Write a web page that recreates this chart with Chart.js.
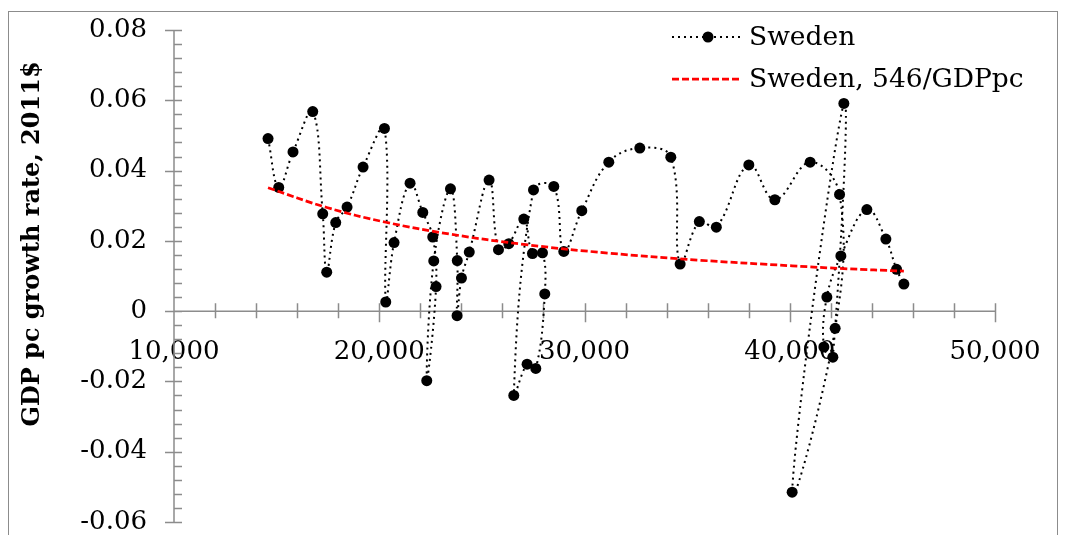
<!DOCTYPE html>
<html><head><meta charset="utf-8">
<script src="https://cdn.jsdelivr.net/npm/chart.js@4.4.0/dist/chart.umd.min.js"></script>
<style>
html,body{margin:0;padding:0;background:#fff;}
#wrap{position:relative;width:1065px;height:535px;overflow:hidden;background:#fff;}
#frame{position:absolute;left:8px;top:11px;width:1050px;height:600px;border:1px solid #8c8c8c;box-sizing:border-box;pointer-events:none;}
canvas{position:absolute;left:0;top:0;}
</style></head><body>
<div id="wrap"><canvas id="c" width="1065" height="535"></canvas><div id="frame"></div></div>
<script>
// ---- data ----
const swedenGDPpc = [14581,15102,15799,16759,17246,17441,17880,18431,19211,20253,
  20317,20721,21501,22120,22607,22768,22315,22656,23470,23801,
  23791,24006,24386,25351,25809,26311,27042,27466,27953,28065,
  27627,27203,26555,27515,28504,28991,29868,31184,32695,34205,
  34659,35595,36423,38007,39274,40994,42427,42212,40117,42636,
  42100,41662,41808,42490,43757,44683,45205,45560];
const swedenGrowth = [0.0491,0.0352,0.0453,0.0568,0.0277,0.0111,0.0252,0.0296,0.0410,0.0520,
  0.0026,0.0195,0.0364,0.0281,0.0211,0.0070,-0.0198,0.0143,0.0348,0.0144,
  -0.0013,0.0094,0.0168,0.0373,0.0175,0.0192,0.0262,0.0164,0.0166,0.0049,
  -0.0163,-0.0151,-0.0240,0.0345,0.0355,0.0170,0.0286,0.0424,0.0464,0.0438,
  0.0134,0.0255,0.0239,0.0416,0.0317,0.0424,0.0332,-0.0049,-0.0515,0.0591,
  -0.0131,-0.0102,0.0040,0.0157,0.0289,0.0205,0.0119,0.0077];
const fitGDPpc  = [14581,17441,20317,23470,27042,31184,35595,40117,42636,45560];
const fitGrowth = [0.0351,0.0295,0.0253,0.0219,0.0190,0.0165,0.0145,0.0129,0.0121,0.0114];
const xTickValues = [10000,20000,30000,40000,50000];
const yTickValues = [-0.06,-0.04,-0.02,0,0.02,0.04,0.06,0.08];
const seriesLabels = ['Sweden','Sweden, 546/GDPpc'];
const yAxisTitle = 'GDP pc growth rate, 2011$';

const SERIF = '"DejaVu Serif", "Liberation Serif", serif';
const AXIS_COLOR = '#8c8c8c';

const toPts = (xs, ys) => xs.map((x, i) => ({x: x, y: ys[i]}));

const axesPlugin = {
  id: 'excelAxes',
  beforeDatasetsDraw(chart) {
    const {ctx} = chart;
    const xs = chart.scales.x, ys = chart.scales.y;
    const x0 = xs.getPixelForValue(xs.min), x1 = xs.getPixelForValue(xs.max);
    const yTop = ys.getPixelForValue(ys.max), yBot = ys.getPixelForValue(ys.min);
    const yZero = ys.getPixelForValue(0);
    ctx.save();
    ctx.strokeStyle = AXIS_COLOR;
    ctx.lineWidth = 1.5;
    ctx.beginPath();
    ctx.moveTo(x0, yTop); ctx.lineTo(x0, yBot);
    ctx.moveTo(x0, yZero); ctx.lineTo(x1, yZero);
    const yStep = 0.004;
    const nY = Math.round((ys.max - ys.min) / yStep);
    for (let i = 0; i <= nY; i++) {
      const v = ys.min + i * yStep;
      const p = Math.round(ys.getPixelForValue(v)) + 0.5;
      const major = (i % 5) === 0;
      ctx.moveTo(major ? x0 - 9 : x0, p); ctx.lineTo(x0 + 8, p);
    }
    const xStep = 2000;
    const nX = Math.round((xs.max - xs.min) / xStep);
    for (let i = 1; i <= nX; i++) {
      const v = xs.min + i * xStep;
      const p = Math.round(xs.getPixelForValue(v)) + 0.5;
      const major = (i % 5) === 0;
      ctx.moveTo(p, yZero - 8); ctx.lineTo(p, yZero + (major ? 11 : 7));
    }
    ctx.stroke();
    ctx.restore();
  },
  afterDraw(chart) {
    const {ctx} = chart;
    ctx.save();
    ctx.translate(33, 244);
    ctx.rotate(-Math.PI / 2);
    ctx.fillStyle = '#000';
    ctx.font = 'bold 24px ' + SERIF;
    ctx.textAlign = 'center';
    ctx.textBaseline = 'middle';
    ctx.fillText(yAxisTitle, 0, 0);
    ctx.restore();

    const ds = chart.data.datasets;
    const rows = [37, 79];
    const lx0 = 672, lx1 = 742, tx = 749;
    ds.forEach((d, i) => {
      const y = rows[i];
      ctx.save();
      ctx.strokeStyle = d.borderColor;
      ctx.lineWidth = d.borderWidth;
      ctx.setLineDash(d.borderDash || []);
      ctx.beginPath();
      ctx.moveTo(lx0, y); ctx.lineTo(lx1, y);
      ctx.stroke();
      ctx.setLineDash([]);
      if (d.pointRadius > 0) {
        ctx.fillStyle = d.pointBackgroundColor;
        ctx.beginPath();
        ctx.arc((lx0 + lx1) / 2 + 1, y, d.pointRadius, 0, Math.PI * 2);
        ctx.fill();
      }
      ctx.fillStyle = '#000';
      ctx.font = '26.5px ' + SERIF;
      ctx.textAlign = 'left';
      ctx.textBaseline = 'middle';
      ctx.fillText(d.label, tx, y + 1);
      ctx.restore();
    });
  }
};

const fmtX = v => v.toLocaleString('en-US');
const fmtY = v => (Math.abs(v) < 1e-9 ? '0' : v.toFixed(2));

new Chart(document.getElementById('c'), {
  type: 'line',
  data: {
    datasets: [
      {
        label: seriesLabels[0],
        data: toPts(swedenGDPpc, swedenGrowth),
        borderColor: '#000',
        borderWidth: 2,
        borderDash: [2, 4],
        pointRadius: 5.5,
        pointBorderWidth: 0,
        pointBackgroundColor: '#000',
        pointBorderColor: '#000',
        tension: 0.4,
        fill: false,
        order: 1
      },
      {
        label: seriesLabels[1],
        data: toPts(fitGDPpc, fitGrowth),
        borderColor: '#ff0000',
        borderWidth: 2.75,
        borderDash: [7, 3],
        pointRadius: 0,
        pointBackgroundColor: '#ff0000',
        tension: 0.4,
        fill: false,
        order: 0
      }
    ]
  },
  options: {
    responsive: false,
    devicePixelRatio: 1,
    animation: false,
    layout: {padding: {left: 0, top: 30, right: 70, bottom: 13}},
    plugins: {legend: {display: false}, tooltip: {enabled: false}},
    scales: {
      x: {
        type: 'linear',
        position: {y: 0},
        min: 10000, max: 50000,
        afterBuildTicks: s => { s.ticks = xTickValues.map(v => ({value: v})); },
        ticks: {
          callback: fmtX, color: '#000', padding: 0, maxRotation: 0, autoSkip: false,
          font: {family: SERIF, size: 26, lineHeight: 1}
        },
        grid: {display: false, drawTicks: true, tickLength: 28},
        border: {display: false}
      },
      y: {
        type: 'linear',
        min: -0.06, max: 0.08,
        afterBuildTicks: s => { s.ticks = yTickValues.map(v => ({value: v})); },
        afterFit: s => { s.width = 174; },
        ticks: {
          callback: fmtY, color: '#000', padding: 0, autoSkip: false,
          font: {family: SERIF, size: 26, lineHeight: 1}
        },
        grid: {display: false, drawTicks: true, tickLength: 27},
        border: {display: false}
      }
    }
  },
  plugins: [axesPlugin]
});
</script>
</body></html>
